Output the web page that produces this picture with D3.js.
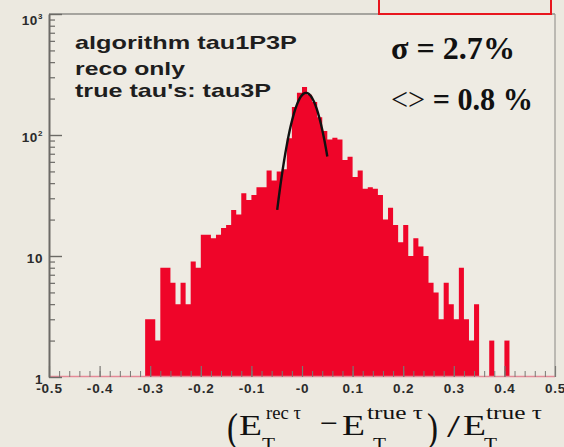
<!DOCTYPE html>
<html>
<head>
<meta charset="utf-8">
<script src="https://cdn.jsdelivr.net/npm/d3@7"></script>
<style>
  html, body { margin: 0; padding: 0; background: #ECE9E0; }
  svg { display: block; }
</style>
</head>
<body>
<svg id="chart" width="564" height="447"></svg>
<script>
// Histogram of the relative transverse-energy resolution, 0.01 wide bins from -0.31 to 0.41
const histLow = -0.31;
const binWidth = 0.01;
const counts = [
  3, 3, 2, 8, 8, 6, 4, 6, 4, 9,
  8, 15, 15, 14, 15, 17, 18, 24, 22, 33,
  29, 32, 37, 37, 51, 42, 50, 52, 94, 170,
  223, 249, 215, 187, 140, 108, 92, 95, 92, 62,
  66, 45, 51, 36, 37, 36, 32, 20, 25, 18,
  13, 18, 10, 14, 12, 10, 6, 5, 3, 6,
  4, 3, 8, 3, 2, 4, 0, 0, 2, 0,
  0, 2
];

// Gaussian fit of the core
const fitAmp = 223;
const fitMean = 0.008;
const fitSigma = 0.027;
const fitRange = [-0.049, 0.050];

// Axes
const xTicks = [-0.5, -0.4, -0.3, -0.2, -0.1, 0, 0.1, 0.2, 0.3, 0.4, 0.5];
const xTickLabels = ["-0.5", "-0.4", "-0.3", "-0.2", "-0.1", "-0", "0.1", "0.2", "0.3", "0.4", "0.5"];
const yTicks = [1, 10, 100, 1000];
const yTickBase = ["1", "10", "10", "10"];
const yTickExp = ["", "", "2", "3"];

const infoLines = ["algorithm tau1P3P", "reco only", "true tau's: tau3P"];
const sigmaText = ["σ = 2.7%"];
const meanText = ["<>", " = 0.8 %"];

const svg = d3.select("#chart");
const W = 564, H = 447;
const plotL = 49, plotR = 555, plotT = 14, plotB = 377;

svg.append("rect").attr("width", W).attr("height", H).attr("fill", "#ECE9E0");
svg.append("rect")
  .attr("x", plotL).attr("y", plotT)
  .attr("width", plotR - plotL).attr("height", plotB - plotT)
  .attr("fill", "#EEEBE3");

const x = d3.scaleLinear().domain([-0.5, 0.5]).range([plotL, plotR]);
const y = d3.scaleLog().domain([1, 1000]).range([plotB, plotT]);

// histogram: one filled step outline per run of non-empty bins
const bins = counts.map((c, i) => ({ x0: histLow + i * binWidth, x1: histLow + (i + 1) * binWidth, c }));
const runs = [];
let run = null;
bins.forEach(b => {
  if (b.c > 0) { if (!run) { run = []; runs.push(run); } run.push(b); }
  else run = null;
});
const stepPath = r => {
  let p = `M${x(r[0].x0)},${y(1)}`;
  r.forEach(b => { p += `L${x(b.x0)},${y(b.c)}L${x(b.x1)},${y(b.c)}`; });
  p += `L${x(r[r.length - 1].x1)},${y(1)}Z`;
  return p;
};
svg.append("g")
  .selectAll("path")
  .data(runs)
  .join("path")
  .attr("d", stepPath)
  .attr("fill", "#EF0529");

// baseline of the histogram
svg.append("line")
  .attr("x1", plotL).attr("x2", plotR)
  .attr("y1", plotB - 0.5).attr("y2", plotB - 0.5)
  .attr("stroke", "#E58A98").attr("stroke-width", 1.5);

// fit curve
const fitPts = d3.range(0, 81).map(k => {
  const v = fitRange[0] + (fitRange[1] - fitRange[0]) * k / 80;
  return [v, fitAmp * Math.exp(-((v - fitMean) ** 2) / (2 * fitSigma * fitSigma))];
});
svg.append("path")
  .datum(fitPts)
  .attr("fill", "none")
  .attr("stroke", "#111")
  .attr("stroke-width", 2.4)
  .attr("d", d3.line().x(d => x(d[0])).y(d => y(d[1])));

// frame
svg.append("line").attr("x1", plotL).attr("x2", plotR).attr("y1", plotT).attr("y2", plotT)
  .attr("stroke", "#8E8C88").attr("stroke-width", 1.5);
svg.append("line").attr("x1", plotR).attr("x2", plotR).attr("y1", plotT).attr("y2", plotB)
  .attr("stroke", "#9A9893").attr("stroke-width", 1.2);

// x axis ticks (inside, pointing up)
const minorX = d3.range(-50, 51, 2).map(k => k / 100);
svg.append("g")
  .attr("transform", `translate(0,${plotB})`)
  .call(d3.axisBottom(x).tickValues(minorX).tickSizeInner(-6).tickSizeOuter(0).tickFormat(""))
  .call(g => g.select(".domain").remove())
  .call(g => g.selectAll("line").attr("stroke", "#7a7874").attr("stroke-width", 1));

const xAxis = svg.append("g")
  .attr("transform", `translate(0,${plotB})`)
  .call(d3.axisBottom(x).tickValues(xTicks).tickSizeInner(-11).tickSizeOuter(0).tickPadding(6)
    .tickFormat((d, i) => xTickLabels[i]));
xAxis.select(".domain").remove();
xAxis.selectAll("line").attr("stroke", "#7a7874").attr("stroke-width", 1.2);
xAxis.selectAll("text")
  .attr("font-family", "Liberation Sans, Arial, sans-serif")
  .attr("font-weight", "bold")
  .attr("font-size", 13.5)
  .attr("letter-spacing", 0.8)
  .attr("fill", "#2b2b2b");

// y axis: minor ticks for 2..9 of every decade
const minorY = [];
[1, 10, 100].forEach(dec => { for (let m = 2; m <= 9; m++) minorY.push(dec * m); });
svg.append("g")
  .attr("transform", `translate(${plotL},0)`)
  .call(d3.axisLeft(y).tickValues(minorY).tickSizeInner(-6).tickSizeOuter(0).tickFormat(""))
  .call(g => g.select(".domain").remove())
  .call(g => g.selectAll("line").attr("stroke", "#6c6a66").attr("stroke-width", 1.2));

const yAxis = svg.append("g")
  .attr("transform", `translate(${plotL},0)`)
  .call(d3.axisLeft(y).tickValues(yTicks).tickSizeInner(-13).tickSizeOuter(0).tickFormat(""));
yAxis.select(".domain").attr("stroke", "#6c6a66").attr("stroke-width", 2);
yAxis.selectAll("line").attr("stroke", "#6c6a66").attr("stroke-width", 1.4);

const yLab = svg.append("g")
  .attr("font-family", "Liberation Sans, Arial, sans-serif")
  .attr("font-weight", "bold")
  .attr("fill", "#2b2b2b")
  .attr("text-anchor", "end");
yTicks.forEach((t, i) => {
  const txt = yLab.append("text")
    .attr("x", 43)
    .attr("y", Math.max(y(t) + 7, 25))
    .attr("font-size", 13.5)
    .attr("letter-spacing", 0.6);
  txt.append("tspan").text(yTickBase[i]);
  if (yTickExp[i]) {
    txt.append("tspan").attr("font-size", 8).attr("dy", -6).text(yTickExp[i]);
  }
});

// info text
const infoBase = [49, 75, 97];
const infoWidth = [222, 110, 196];
svg.append("g")
  .attr("font-family", "Liberation Sans, Arial, sans-serif")
  .attr("font-weight", "bold")
  .attr("font-size", 19)
  .attr("fill", "#1e1e1e")
  .selectAll("text")
  .data(infoLines)
  .join("text")
  .attr("x", 75)
  .attr("y", (d, i) => infoBase[i])
  .attr("textLength", (d, i) => infoWidth[i])
  .attr("lengthAdjust", "spacingAndGlyphs")
  .text(d => d);

// fit summary
svg.append("text")
  .attr("x", 391).attr("y", 59)
  .attr("font-family", "Liberation Serif, 'Times New Roman', serif")
  .attr("font-weight", "bold")
  .attr("font-size", 31)
  .attr("fill", "#111")
  .attr("textLength", 124)
  .attr("lengthAdjust", "spacingAndGlyphs")
  .text(sigmaText[0]);
const mt = svg.append("text")
  .attr("x", 391).attr("y", 110)
  .attr("font-family", "Liberation Serif, 'Times New Roman', serif")
  .attr("font-size", 31)
  .attr("fill", "#111")
  .attr("textLength", 142)
  .attr("lengthAdjust", "spacingAndGlyphs");
mt.append("tspan").attr("font-weight", "normal").text(meanText[0]);
mt.append("tspan").attr("font-weight", "bold").text(meanText[1]);

// red box at the top right
svg.append("rect")
  .attr("x", 379).attr("y", -10)
  .attr("width", 172).attr("height", 24)
  .attr("fill", "none")
  .attr("stroke", "#E8161E")
  .attr("stroke-width", 2);

// x axis title: (E_T^{rec τ} − E_T^{true τ}) / E_T^{true τ}
const title = svg.append("g")
  .attr("font-family", "Liberation Serif, 'Times New Roman', serif")
  .attr("fill", "#111");
const pieces = [
  { t: "(", x: 227, y: 441, s: 40, w: 11 },
  { t: "E", x: 239, y: 435, s: 30, w: 23 },
  { t: "rec τ", x: 266, y: 419, s: 19, w: 35 },
  { t: "T", x: 262, y: 451, s: 19, w: 13 },
  { t: "−", x: 320, y: 433, s: 30, w: 18 },
  { t: "E", x: 342, y: 435, s: 30, w: 23 },
  { t: "true τ", x: 367, y: 419, s: 19, w: 56 },
  { t: "T", x: 373, y: 451, s: 19, w: 13 },
  { t: ")", x: 427, y: 441, s: 40, w: 11 },
  { t: "/", x: 447, y: 437, s: 32, w: 13 },
  { t: "E", x: 463, y: 435, s: 30, w: 23 },
  { t: "true τ", x: 486, y: 419, s: 19, w: 56 },
  { t: "T", x: 484, y: 451, s: 19, w: 13 }
];
title.selectAll("text")
  .data(pieces)
  .join("text")
  .attr("x", d => d.x)
  .attr("y", d => d.y)
  .attr("font-size", d => d.s)
  .attr("textLength", d => d.w)
  .attr("lengthAdjust", "spacingAndGlyphs")
  .text(d => d.t);
</script>
</body>
</html>
